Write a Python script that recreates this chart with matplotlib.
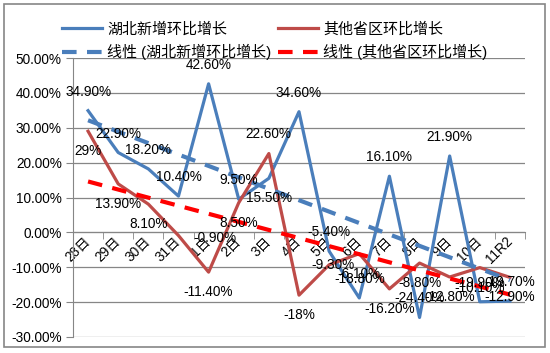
import numpy as np
import matplotlib
matplotlib.use('Agg')
import matplotlib.pyplot as plt
from matplotlib.patches import Rectangle

plt.rcParams['font.family'] = ['Liberation Sans', 'Noto Sans CJK SC']

days = ['28日', '29日', '30日', '31日', '1日', '2日', '3日', '4日',
        '5日', '6日', '7日', '8日', '9日', '10日', '11R2']
hubei = [34.9, 22.9, 18.2, 10.4, 42.6, 9.5, 15.5, 34.6,
         -5.4, -18.8, 16.1, -24.4, 21.9, -19.9, -19.7]
others = [29, 13.9, 8.1, -0.9, -11.4, 8.5, 22.6, -18,
          -9.3, -6.1, -16.2, -8.8, -12.8, -10.1, -12.9]

name_hb = '湖北新增环比增长'
name_ot = '其他省区环比增长'

BLUE = '#4a7ebb'
DARKRED = '#be4b48'
RED = '#ff0000'
GRID = '#868686'


def fmt(v):
    if float(v).is_integer():
        return f'{int(v)}%'
    return f'{v:.2f}%'


fig = plt.figure(figsize=(5.5, 3.53), dpi=100)
fig.patch.set_facecolor('white')
fig.patches.append(Rectangle((4 / 550, 6 / 353), 541 / 550, 343 / 353,
                             transform=fig.transFigure, fill=False,
                             edgecolor=GRID, linewidth=1.2))

ax = fig.add_axes([73 / 550, 1 - 337 / 353, 452 / 550, 279 / 353])
x = np.arange(len(days))

# trend lines (linear fit like excel)
t_hb = np.polyval(np.polyfit(x, hubei, 1), x)
t_ot = np.polyval(np.polyfit(x, others, 1), x)

l1, = ax.plot(x, hubei, color=BLUE, lw=2.3, zorder=3, label=name_hb)
l3, = ax.plot(x, others, color=DARKRED, lw=2.3, zorder=3, label=name_ot)
l2, = ax.plot(x, t_hb, color=BLUE, lw=3, ls=(0, (3.5, 2.5)), zorder=4,
              label=f'线性 ({name_hb})')
l4, = ax.plot(x, t_ot, color=RED, lw=3, ls=(0, (3.5, 2.5)), zorder=4,
              label=f'线性 ({name_ot})')

ax.set_xlim(-0.5, len(days) - 0.5)
ax.set_ylim(-30, 50)
ax.set_yticks(np.arange(-30, 51, 10))
ax.set_yticklabels([f'{v:.2f}%' for v in np.arange(-30, 51, 10)], fontsize=9.8)
ax.grid(axis='y', color=GRID, lw=0.9)
ax.set_axisbelow(True)

for s in ('top', 'right'):
    ax.spines[s].set_visible(False)
ax.spines['left'].set_color(GRID)
ax.spines['bottom'].set_color(GRID)
ax.spines['bottom'].set_position(('data', 0))
ax.tick_params(axis='y', length=5, color=GRID, pad=3)

ax.set_xticks(x)
ax.set_xticks(np.arange(-0.5, len(days), 1), minor=True)
ax.tick_params(axis='x', which='major', length=0, pad=5)
ax.tick_params(axis='x', which='minor', length=5, color=GRID, direction='out')
ax.set_xticklabels(days, rotation=45, ha='right', va='center',
                   rotation_mode='anchor', fontsize=9.8)

# data labels (px offsets): blue above, red below, a few moved
px = 0.72
hb_off = {6: (0, -20)}
ot_off = {3: (36, -2), 6: (0, 20), 8: (4, 0)}
for i, v in enumerate(hubei):
    dx, dy = hb_off.get(i, (0, 19))
    ax.annotate(fmt(v), (i, v), xytext=(dx * px, dy * px), textcoords='offset points',
                ha='center', va='center', fontsize=9.8, zorder=6)
for i, v in enumerate(others):
    dx, dy = ot_off.get(i, (0, -20))
    ax.annotate(fmt(v), (i, v), xytext=(dx * px, dy * px), textcoords='offset points',
                ha='center', va='center', fontsize=9.8, zorder=6)

fig.legend(handles=[l1, l2, l3, l4], ncol=2, loc='upper left',
           bbox_to_anchor=(62 / 550, 1 - 22 / 353), frameon=False,
           fontsize=10.8, handlelength=2.67, handletextpad=0.33,
           columnspacing=0.47, labelspacing=0.5, borderpad=0, borderaxespad=0)

fig.savefig('out.png', dpi=100)
